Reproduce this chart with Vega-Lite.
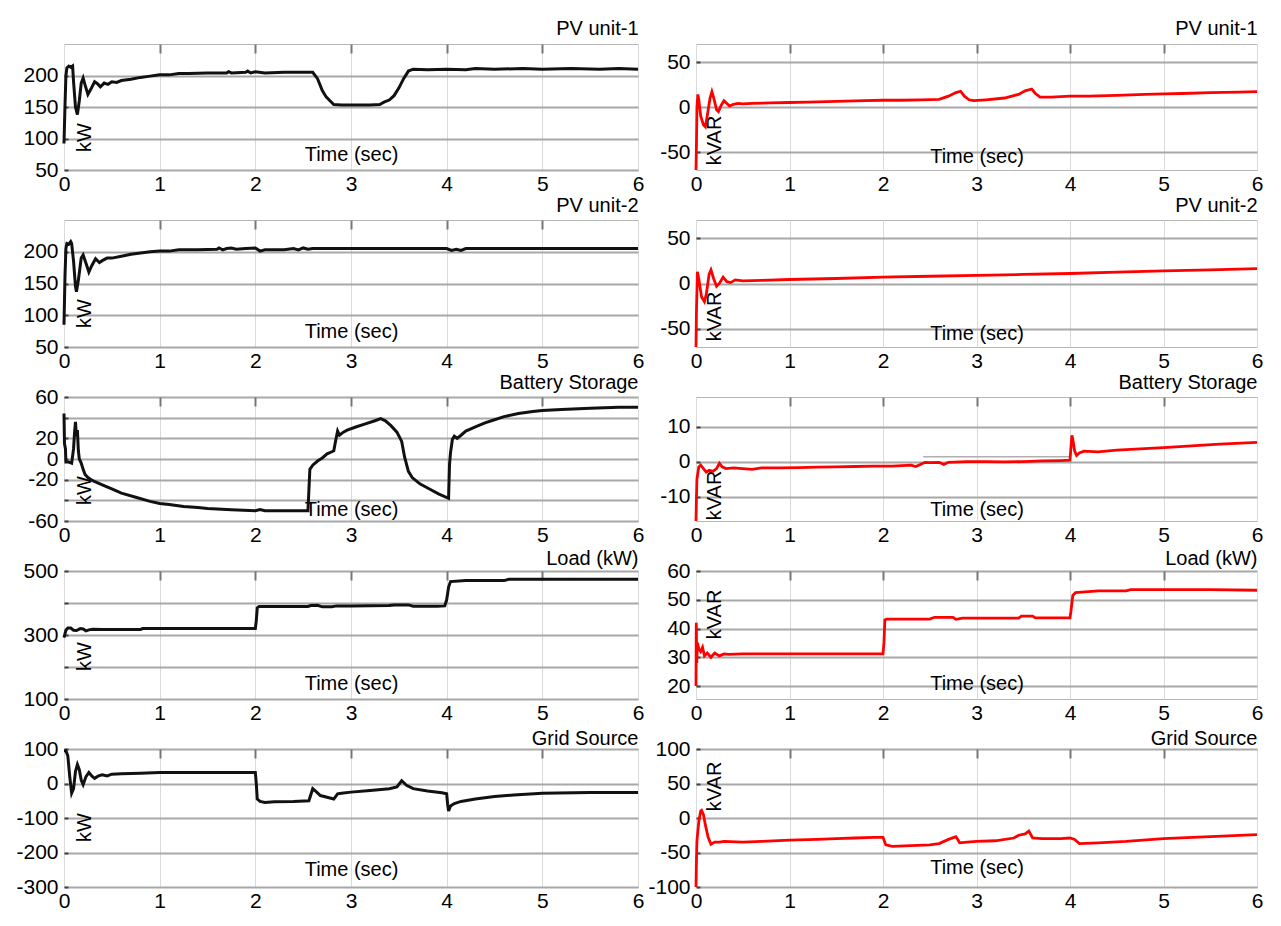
{
"$schema": "https://vega.github.io/schema/vega-lite/v6.json",
"background": "white",
"padding": {"left": 15, "top": 17, "right": 5, "bottom": 5},
"bounds": "flush",
"columns": 2,
"spacing": {"row": 50, "column": 58},
"datasets": {
"l1": [{"t":0,"v":92},{"t":0.01,"v":150},{"t":0.02,"v":200},{"t":0.03,"v":212},{"t":0.05,"v":215},{"t":0.07,"v":213},{"t":0.09,"v":215},{"t":0.1,"v":190},{"t":0.12,"v":150},{"t":0.14,"v":138},{"t":0.16,"v":160},{"t":0.18,"v":188},{"t":0.2,"v":196},{"t":0.22,"v":185},{"t":0.25,"v":170},{"t":0.28,"v":178},{"t":0.32,"v":190},{"t":0.35,"v":187},{"t":0.38,"v":182},{"t":0.42,"v":188},{"t":0.46,"v":186},{"t":0.5,"v":190},{"t":0.55,"v":189},{"t":0.6,"v":192},{"t":0.7,"v":194},{"t":0.8,"v":197},{"t":0.9,"v":199},{"t":1.0,"v":201},{"t":1.1,"v":201},{"t":1.2,"v":203},{"t":1.3,"v":203},{"t":1.5,"v":204},{"t":1.7,"v":204},{"t":1.72,"v":206},{"t":1.75,"v":204},{"t":1.9,"v":205},{"t":1.92,"v":207},{"t":1.95,"v":204},{"t":2.0,"v":206},{"t":2.1,"v":204},{"t":2.3,"v":205},{"t":2.5,"v":205},{"t":2.6,"v":205},{"t":2.65,"v":195},{"t":2.7,"v":176},{"t":2.74,"v":166},{"t":2.78,"v":160},{"t":2.82,"v":154},{"t":2.9,"v":153},{"t":3.0,"v":153},{"t":3.1,"v":153},{"t":3.2,"v":153},{"t":3.3,"v":154},{"t":3.35,"v":158},{"t":3.4,"v":161},{"t":3.45,"v":168},{"t":3.5,"v":180},{"t":3.55,"v":195},{"t":3.6,"v":207},{"t":3.65,"v":210},{"t":3.8,"v":209},{"t":4.0,"v":210},{"t":4.2,"v":209},{"t":4.3,"v":211},{"t":4.5,"v":210},{"t":4.8,"v":211},{"t":5.0,"v":210},{"t":5.3,"v":211},{"t":5.6,"v":210},{"t":5.8,"v":211},{"t":6.0,"v":210}],
"l2": [{"t":0,"v":85},{"t":0.01,"v":160},{"t":0.02,"v":205},{"t":0.03,"v":213},{"t":0.05,"v":212},{"t":0.07,"v":216},{"t":0.08,"v":213},{"t":0.1,"v":185},{"t":0.12,"v":145},{"t":0.13,"v":137},{"t":0.15,"v":155},{"t":0.18,"v":190},{"t":0.2,"v":195},{"t":0.23,"v":182},{"t":0.26,"v":168},{"t":0.29,"v":178},{"t":0.33,"v":189},{"t":0.37,"v":183},{"t":0.4,"v":186},{"t":0.45,"v":190},{"t":0.5,"v":190},{"t":0.6,"v":193},{"t":0.7,"v":196},{"t":0.8,"v":198},{"t":0.9,"v":200},{"t":1.0,"v":201},{"t":1.1,"v":201},{"t":1.2,"v":203},{"t":1.4,"v":203},{"t":1.6,"v":204},{"t":1.62,"v":206},{"t":1.66,"v":203},{"t":1.7,"v":205},{"t":1.75,"v":206},{"t":1.8,"v":204},{"t":1.9,"v":205},{"t":2.0,"v":206},{"t":2.05,"v":201},{"t":2.1,"v":203},{"t":2.3,"v":203},{"t":2.4,"v":205},{"t":2.45,"v":203},{"t":2.5,"v":206},{"t":2.55,"v":204},{"t":2.6,"v":205},{"t":3.0,"v":205},{"t":3.5,"v":205},{"t":4.0,"v":205},{"t":4.05,"v":202},{"t":4.1,"v":204},{"t":4.15,"v":202},{"t":4.2,"v":205},{"t":4.5,"v":205},{"t":5.0,"v":205},{"t":5.5,"v":205},{"t":6.0,"v":205}],
"l3": [{"t":0,"v":44},{"t":0.005,"v":15},{"t":0.015,"v":10},{"t":0.02,"v":-3},{"t":0.05,"v":-3},{"t":0.08,"v":-4},{"t":0.1,"v":10},{"t":0.11,"v":25},{"t":0.12,"v":36},{"t":0.13,"v":22},{"t":0.14,"v":28},{"t":0.15,"v":8},{"t":0.16,"v":0},{"t":0.18,"v":-4},{"t":0.2,"v":-10},{"t":0.22,"v":-15},{"t":0.25,"v":-18},{"t":0.3,"v":-21},{"t":0.4,"v":-25},{"t":0.5,"v":-29},{"t":0.6,"v":-33},{"t":0.75,"v":-37},{"t":0.9,"v":-41},{"t":1.0,"v":-43},{"t":1.1,"v":-44},{"t":1.25,"v":-46},{"t":1.4,"v":-47},{"t":1.5,"v":-48},{"t":1.75,"v":-49},{"t":2.0,"v":-50},{"t":2.05,"v":-49},{"t":2.1,"v":-50},{"t":2.3,"v":-50},{"t":2.55,"v":-50},{"t":2.565,"v":-20},{"t":2.57,"v":-10},{"t":2.6,"v":-6},{"t":2.65,"v":-2},{"t":2.7,"v":1},{"t":2.75,"v":5},{"t":2.8,"v":7},{"t":2.82,"v":8},{"t":2.84,"v":18},{"t":2.86,"v":27},{"t":2.88,"v":23},{"t":2.92,"v":26},{"t":2.96,"v":28},{"t":3.05,"v":31},{"t":3.15,"v":34},{"t":3.25,"v":37},{"t":3.31,"v":39},{"t":3.36,"v":37},{"t":3.42,"v":32},{"t":3.48,"v":26},{"t":3.53,"v":17},{"t":3.56,"v":2},{"t":3.6,"v":-12},{"t":3.64,"v":-18},{"t":3.72,"v":-24},{"t":3.82,"v":-29},{"t":3.92,"v":-34},{"t":4.02,"v":-38},{"t":4.03,"v":-5},{"t":4.04,"v":6},{"t":4.06,"v":19},{"t":4.08,"v":22},{"t":4.11,"v":20},{"t":4.15,"v":23},{"t":4.2,"v":27},{"t":4.3,"v":31},{"t":4.4,"v":35},{"t":4.5,"v":38},{"t":4.6,"v":41},{"t":4.75,"v":44},{"t":4.9,"v":46},{"t":5.0,"v":47},{"t":5.2,"v":48},{"t":5.5,"v":49},{"t":5.8,"v":50},{"t":6.0,"v":50}],
"l4": [{"t":0,"v":292},{"t":0.02,"v":315},{"t":0.04,"v":322},{"t":0.07,"v":322},{"t":0.1,"v":315},{"t":0.13,"v":314},{"t":0.17,"v":320},{"t":0.2,"v":319},{"t":0.23,"v":313},{"t":0.26,"v":316},{"t":0.3,"v":318},{"t":0.4,"v":317},{"t":0.6,"v":317},{"t":0.8,"v":317},{"t":0.82,"v":320},{"t":1.0,"v":320},{"t":1.5,"v":320},{"t":2.0,"v":320},{"t":2.01,"v":345},{"t":2.02,"v":385},{"t":2.04,"v":389},{"t":2.3,"v":389},{"t":2.55,"v":389},{"t":2.58,"v":392},{"t":2.65,"v":393},{"t":2.7,"v":388},{"t":2.8,"v":388},{"t":2.85,"v":391},{"t":3.0,"v":391},{"t":3.4,"v":392},{"t":3.45,"v":394},{"t":3.6,"v":394},{"t":3.65,"v":390},{"t":3.9,"v":390},{"t":3.98,"v":391},{"t":4.0,"v":410},{"t":4.02,"v":450},{"t":4.04,"v":467},{"t":4.2,"v":470},{"t":4.6,"v":470},{"t":4.65,"v":474},{"t":5.0,"v":474},{"t":5.5,"v":474},{"t":6.0,"v":474}],
"l5": [{"t":0,"v":95},{"t":0.02,"v":95},{"t":0.04,"v":80},{"t":0.06,"v":20},{"t":0.08,"v":-28},{"t":0.1,"v":-15},{"t":0.12,"v":35},{"t":0.14,"v":55},{"t":0.16,"v":40},{"t":0.18,"v":10},{"t":0.2,"v":-3},{"t":0.23,"v":20},{"t":0.26,"v":32},{"t":0.29,"v":22},{"t":0.32,"v":15},{"t":0.36,"v":22},{"t":0.4,"v":25},{"t":0.45,"v":22},{"t":0.5,"v":27},{"t":0.6,"v":28},{"t":0.8,"v":30},{"t":1.0,"v":32},{"t":1.5,"v":32},{"t":2.0,"v":32},{"t":2.01,"v":0},{"t":2.02,"v":-45},{"t":2.05,"v":-52},{"t":2.1,"v":-55},{"t":2.2,"v":-53},{"t":2.4,"v":-52},{"t":2.56,"v":-50},{"t":2.6,"v":-15},{"t":2.63,"v":-22},{"t":2.68,"v":-35},{"t":2.75,"v":-40},{"t":2.82,"v":-45},{"t":2.86,"v":-30},{"t":2.9,"v":-28},{"t":3.0,"v":-25},{"t":3.2,"v":-20},{"t":3.4,"v":-15},{"t":3.48,"v":-10},{"t":3.53,"v":8},{"t":3.58,"v":-5},{"t":3.65,"v":-15},{"t":3.8,"v":-22},{"t":3.95,"v":-27},{"t":4.0,"v":-30},{"t":4.01,"v":-60},{"t":4.02,"v":-80},{"t":4.04,"v":-65},{"t":4.08,"v":-58},{"t":4.15,"v":-52},{"t":4.3,"v":-45},{"t":4.5,"v":-38},{"t":4.7,"v":-33},{"t":5.0,"v":-28},{"t":5.5,"v":-26},{"t":6.0,"v":-26}],
"r1": [{"t":0,"v":-70},{"t":0.005,"v":-40},{"t":0.01,"v":0},{"t":0.02,"v":14},{"t":0.03,"v":8},{"t":0.05,"v":-10},{"t":0.08,"v":-20},{"t":0.1,"v":-22},{"t":0.12,"v":-10},{"t":0.15,"v":10},{"t":0.17,"v":17},{"t":0.19,"v":10},{"t":0.22,"v":-3},{"t":0.24,"v":-5},{"t":0.27,"v":2},{"t":0.3,"v":7},{"t":0.33,"v":4},{"t":0.36,"v":1},{"t":0.4,"v":3},{"t":0.45,"v":4},{"t":0.5,"v":3.5},{"t":0.6,"v":4},{"t":0.8,"v":4.5},{"t":1.0,"v":5},{"t":1.2,"v":5.5},{"t":1.4,"v":6},{"t":1.6,"v":6.5},{"t":1.8,"v":7},{"t":2.0,"v":7.5},{"t":2.2,"v":7.5},{"t":2.4,"v":8},{"t":2.6,"v":8.5},{"t":2.7,"v":12},{"t":2.78,"v":16},{"t":2.83,"v":17.5},{"t":2.87,"v":12},{"t":2.92,"v":8},{"t":2.97,"v":7},{"t":3.1,"v":8},{"t":3.3,"v":10},{"t":3.45,"v":14},{"t":3.52,"v":18},{"t":3.59,"v":20},{"t":3.63,"v":15},{"t":3.68,"v":11},{"t":3.8,"v":11},{"t":4.0,"v":12},{"t":4.2,"v":12},{"t":4.5,"v":13},{"t":4.8,"v":14},{"t":5.0,"v":14.5},{"t":5.2,"v":15},{"t":5.5,"v":16},{"t":5.8,"v":16.5},{"t":6.0,"v":17}],
"r2": [{"t":0,"v":-70},{"t":0.005,"v":-30},{"t":0.015,"v":13},{"t":0.03,"v":5},{"t":0.06,"v":-15},{"t":0.09,"v":-20},{"t":0.11,"v":-12},{"t":0.14,"v":10},{"t":0.16,"v":15},{"t":0.19,"v":5},{"t":0.22,"v":-3},{"t":0.25,"v":0},{"t":0.29,"v":7},{"t":0.33,"v":2},{"t":0.37,"v":1},{"t":0.42,"v":4},{"t":0.5,"v":3},{"t":0.7,"v":3.5},{"t":1.0,"v":4.4},{"t":1.5,"v":5.5},{"t":2.0,"v":7},{"t":2.5,"v":8},{"t":3.0,"v":9},{"t":3.5,"v":10},{"t":4.0,"v":11},{"t":4.5,"v":12.5},{"t":5.0,"v":14},{"t":5.5,"v":15},{"t":6.0,"v":16.4}],
"r3": [{"t":0,"v":-17},{"t":0.005,"v":-10},{"t":0.01,"v":-5},{"t":0.03,"v":-1.5},{"t":0.05,"v":-1},{"t":0.08,"v":-2},{"t":0.11,"v":-3},{"t":0.14,"v":-2.5},{"t":0.18,"v":-2.8},{"t":0.22,"v":-2},{"t":0.25,"v":-0.5},{"t":0.28,"v":-1.5},{"t":0.32,"v":-2},{"t":0.4,"v":-1.8},{"t":0.5,"v":-2},{"t":0.6,"v":-2.2},{"t":0.7,"v":-1.8},{"t":0.9,"v":-1.8},{"t":1.1,"v":-1.7},{"t":1.3,"v":-1.6},{"t":1.5,"v":-1.5},{"t":1.7,"v":-1.4},{"t":1.9,"v":-1.3},{"t":2.1,"v":-1.3},{"t":2.3,"v":-1},{"t":2.35,"v":-1.4},{"t":2.4,"v":-0.8},{"t":2.45,"v":-0.2},{"t":2.5,"v":-0.3},{"t":2.6,"v":-0.2},{"t":2.65,"v":-0.8},{"t":2.7,"v":-0.2},{"t":2.9,"v":0},{"t":3.1,"v":0},{"t":3.3,"v":-0.1},{"t":3.5,"v":0},{"t":3.7,"v":0.2},{"t":3.9,"v":0.3},{"t":4.0,"v":0.4},{"t":4.01,"v":4},{"t":4.02,"v":7.5},{"t":4.03,"v":6.5},{"t":4.05,"v":3},{"t":4.07,"v":1.8},{"t":4.1,"v":2.5},{"t":4.15,"v":3},{"t":4.3,"v":2.8},{"t":4.5,"v":3.3},{"t":4.8,"v":3.7},{"t":5.0,"v":4},{"t":5.3,"v":4.5},{"t":5.6,"v":5},{"t":6.0,"v":5.5}],
"r3g": [{"t":2.43,"v":1.4},{"t":4.0,"v":1.4}],
"r4": [{"t":0,"v":20},{"t":0.003,"v":42},{"t":0.008,"v":28},{"t":0.015,"v":35},{"t":0.03,"v":33},{"t":0.05,"v":32},{"t":0.07,"v":33.5},{"t":0.09,"v":30.5},{"t":0.12,"v":31.5},{"t":0.16,"v":30},{"t":0.2,"v":31.5},{"t":0.25,"v":30.5},{"t":0.3,"v":31.2},{"t":0.35,"v":31},{"t":0.5,"v":31.2},{"t":1.0,"v":31.2},{"t":1.5,"v":31.2},{"t":2.0,"v":31.2},{"t":2.01,"v":35},{"t":2.02,"v":43},{"t":2.04,"v":43.3},{"t":2.5,"v":43.3},{"t":2.55,"v":43.9},{"t":2.75,"v":43.9},{"t":2.78,"v":43.2},{"t":2.85,"v":43.6},{"t":3.45,"v":43.6},{"t":3.48,"v":44.3},{"t":3.6,"v":44.3},{"t":3.63,"v":43.7},{"t":4.0,"v":43.7},{"t":4.01,"v":46},{"t":4.03,"v":51.5},{"t":4.06,"v":52.5},{"t":4.3,"v":53.1},{"t":4.6,"v":53.1},{"t":4.65,"v":53.5},{"t":5.0,"v":53.5},{"t":5.5,"v":53.5},{"t":6.0,"v":53.3}],
"r5": [{"t":0,"v":-100},{"t":0.005,"v":-60},{"t":0.01,"v":-33},{"t":0.03,"v":-5},{"t":0.05,"v":10},{"t":0.06,"v":11},{"t":0.08,"v":5},{"t":0.1,"v":-10},{"t":0.13,"v":-28},{"t":0.16,"v":-38},{"t":0.2,"v":-35},{"t":0.25,"v":-35},{"t":0.3,"v":-34},{"t":0.5,"v":-35},{"t":0.7,"v":-34},{"t":1.0,"v":-32},{"t":1.3,"v":-31},{"t":1.5,"v":-30},{"t":1.7,"v":-29},{"t":1.9,"v":-28},{"t":2.0,"v":-28},{"t":2.03,"v":-39},{"t":2.1,"v":-41},{"t":2.3,"v":-40},{"t":2.5,"v":-39},{"t":2.6,"v":-37},{"t":2.7,"v":-31},{"t":2.78,"v":-27},{"t":2.82,"v":-36},{"t":2.9,"v":-35},{"t":3.0,"v":-34},{"t":3.2,"v":-33},{"t":3.4,"v":-29},{"t":3.45,"v":-25},{"t":3.52,"v":-23},{"t":3.56,"v":-19},{"t":3.6,"v":-29},{"t":3.7,"v":-30},{"t":3.9,"v":-30},{"t":4.0,"v":-29},{"t":4.05,"v":-31},{"t":4.1,"v":-37},{"t":4.3,"v":-36},{"t":4.6,"v":-34},{"t":5.0,"v":-30},{"t":5.5,"v":-27},{"t":6.0,"v":-24}]
},
"concat": [
 {"width": 574, "height": 126, "data": {"name": "l1"},
  "layer": [
   {"mark": {"type": "line", "color": "#111", "strokeWidth": 3},
    "encoding": {
     "x": {"field": "t", "type": "quantitative", "scale": {"domain": [0, 6], "nice": false}, "axis": {"values": [0,1,2,3,4,5,6], "title": "Time (sec)", "titleY": -16}},
     "y": {"field": "v", "type": "quantitative", "scale": {"domain": [50, 250], "nice": false, "zero": false}, "axis": {"values": [50,100,150,200], "tickCount": 20, "labelExpr": "datum.value + ''", "title": "kW", "titleX": 20, "titleY": 93}}}},
   {"mark": {"type": "line", "opacity": 0},
    "encoding": {
     "x": {"field": "t", "type": "quantitative", "axis": {"orient": "top", "values": [1,2,3,4,5], "labels": false, "grid": false, "ticks": true, "tickSize": -9, "tickColor": "#777", "tickWidth": 2, "title": "PV unit-1", "titleX": 574, "titleY": -16, "titleAlign": "right"}},
     "y": {"field": "v", "type": "quantitative"}}}
  ],
  "resolve": {"axis": {"x": "independent"}}},
 {"width": 561, "height": 126, "data": {"name": "r1"},
  "layer": [
   {"mark": {"type": "line", "color": "#ff0000", "strokeWidth": 2.8},
    "encoding": {
     "x": {"field": "t", "type": "quantitative", "scale": {"domain": [0, 6], "nice": false}, "axis": {"values": [0,1,2,3,4,5,6], "title": "Time (sec)", "titleY": -14}},
     "y": {"field": "v", "type": "quantitative", "scale": {"domain": [-70, 70], "nice": false, "zero": false}, "axis": {"values": [-50,0,50], "tickCount": 20, "labelExpr": "datum.value + ''", "title": "kVAR", "titleX": 18, "titleY": 96}}}},
   {"mark": {"type": "line", "opacity": 0},
    "encoding": {
     "x": {"field": "t", "type": "quantitative", "axis": {"orient": "top", "values": [1,2,3,4,5], "labels": false, "grid": false, "ticks": true, "tickSize": -9, "tickColor": "#777", "tickWidth": 2, "title": "PV unit-1", "titleX": 561, "titleY": -16, "titleAlign": "right"}},
     "y": {"field": "v", "type": "quantitative"}}}
  ],
  "resolve": {"axis": {"x": "independent"}}},
 {"width": 574, "height": 127, "data": {"name": "l2"},
  "layer": [
   {"mark": {"type": "line", "color": "#111", "strokeWidth": 3},
    "encoding": {
     "x": {"field": "t", "type": "quantitative", "scale": {"domain": [0, 6], "nice": false}, "axis": {"values": [0,1,2,3,4,5,6], "title": "Time (sec)", "titleY": -16}},
     "y": {"field": "v", "type": "quantitative", "scale": {"domain": [50, 250], "nice": false, "zero": false}, "axis": {"values": [50,100,150,200], "tickCount": 20, "labelExpr": "datum.value + ''", "title": "kW", "titleX": 20, "titleY": 93}}}},
   {"mark": {"type": "line", "opacity": 0},
    "encoding": {
     "x": {"field": "t", "type": "quantitative", "axis": {"orient": "top", "values": [1,2,3,4,5], "labels": false, "grid": false, "ticks": true, "tickSize": -9, "tickColor": "#777", "tickWidth": 2, "title": "PV unit-2", "titleX": 574, "titleY": -15, "titleAlign": "right"}},
     "y": {"field": "v", "type": "quantitative"}}}
  ],
  "resolve": {"axis": {"x": "independent"}}},
 {"width": 561, "height": 127, "data": {"name": "r2"},
  "layer": [
   {"mark": {"type": "line", "color": "#ff0000", "strokeWidth": 2.8},
    "encoding": {
     "x": {"field": "t", "type": "quantitative", "scale": {"domain": [0, 6], "nice": false}, "axis": {"values": [0,1,2,3,4,5,6], "title": "Time (sec)", "titleY": -14}},
     "y": {"field": "v", "type": "quantitative", "scale": {"domain": [-70, 70], "nice": false, "zero": false}, "axis": {"values": [-50,0,50], "tickCount": 20, "labelExpr": "datum.value + ''", "title": "kVAR", "titleX": 18, "titleY": 96}}}},
   {"mark": {"type": "line", "opacity": 0},
    "encoding": {
     "x": {"field": "t", "type": "quantitative", "axis": {"orient": "top", "values": [1,2,3,4,5], "labels": false, "grid": false, "ticks": false, "title": "PV unit-2", "titleX": 561, "titleY": -15, "titleAlign": "right"}},
     "y": {"field": "v", "type": "quantitative"}}}
  ],
  "resolve": {"axis": {"x": "independent"}}},
 {"width": 574, "height": 124, "data": {"name": "l3"},
  "layer": [
   {"mark": {"type": "line", "color": "#111", "strokeWidth": 3},
    "encoding": {
     "x": {"field": "t", "type": "quantitative", "scale": {"domain": [0, 6], "nice": false}, "axis": {"values": [0,1,2,3,4,5,6], "title": "Time (sec)", "titleY": -12}},
     "y": {"field": "v", "type": "quantitative", "scale": {"domain": [-60, 60], "nice": false, "zero": false}, "axis": {"values": [-60,-40,-20,0,20,40,60], "tickCount": 20, "labelExpr": "datum.value == 40 || datum.value == -40 ? '' : datum.value + ''", "title": "kW", "titleX": 20, "titleY": 93}}}},
   {"mark": {"type": "line", "opacity": 0},
    "encoding": {
     "x": {"field": "t", "type": "quantitative", "axis": {"orient": "top", "values": [1,2,3,4,5], "labels": false, "grid": false, "ticks": true, "tickSize": -9, "tickColor": "#777", "tickWidth": 2, "title": "Battery Storage", "titleX": 574, "titleY": -15, "titleAlign": "right"}},
     "y": {"field": "v", "type": "quantitative"}}}
  ],
  "resolve": {"axis": {"x": "independent"}}},
 {"width": 561, "height": 124,
  "layer": [
   {"data": {"name": "r3g"}, "mark": {"type": "line", "color": "#b0b0b0", "strokeWidth": 1.5},
    "encoding": {
     "x": {"field": "t", "type": "quantitative", "scale": {"domain": [0, 6], "nice": false}, "axis": {"values": [0,1,2,3,4,5,6], "title": "Time (sec)", "titleY": -12}},
     "y": {"field": "v", "type": "quantitative", "scale": {"domain": [-17, 18.5], "nice": false, "zero": false}, "axis": {"values": [-10,0,10], "tickCount": 20, "labelExpr": "datum.value + ''", "title": "kVAR", "titleX": 18, "titleY": 98}}}},
   {"data": {"name": "r3"}, "mark": {"type": "line", "color": "#ff0000", "strokeWidth": 2.8},
    "encoding": {
     "x": {"field": "t", "type": "quantitative", "axis": null},
     "y": {"field": "v", "type": "quantitative"}}},
   {"data": {"name": "r3"}, "mark": {"type": "line", "opacity": 0},
    "encoding": {
     "x": {"field": "t", "type": "quantitative", "axis": {"orient": "top", "values": [1,2,3,4,5], "labels": false, "grid": false, "ticks": true, "tickSize": -9, "tickColor": "#777", "tickWidth": 2, "title": "Battery Storage", "titleX": 561, "titleY": -15, "titleAlign": "right"}},
     "y": {"field": "v", "type": "quantitative"}}}
  ],
  "resolve": {"axis": {"x": "independent"}}},
 {"width": 574, "height": 128, "data": {"name": "l4"},
  "layer": [
   {"mark": {"type": "line", "color": "#111", "strokeWidth": 3},
    "encoding": {
     "x": {"field": "t", "type": "quantitative", "scale": {"domain": [0, 6], "nice": false}, "axis": {"values": [0,1,2,3,4,5,6], "title": "Time (sec)", "titleY": -16}},
     "y": {"field": "v", "type": "quantitative", "scale": {"domain": [100, 500], "nice": false, "zero": false}, "axis": {"values": [100,200,300,400,500], "tickCount": 20, "labelExpr": "datum.value == 200 || datum.value == 400 ? '' : datum.value + ''", "title": "kW", "titleX": 20, "titleY": 85}}}},
   {"mark": {"type": "line", "opacity": 0},
    "encoding": {
     "x": {"field": "t", "type": "quantitative", "axis": {"orient": "top", "values": [1,2,3,4,5], "labels": false, "grid": false, "ticks": true, "tickSize": -9, "tickColor": "#777", "tickWidth": 2, "title": "Load (kW)", "titleX": 574, "titleY": -13, "titleAlign": "right"}},
     "y": {"field": "v", "type": "quantitative"}}}
  ],
  "resolve": {"axis": {"x": "independent"}}},
 {"width": 561, "height": 128, "data": {"name": "r4"},
  "layer": [
   {"mark": {"type": "line", "color": "#ff0000", "strokeWidth": 2.8},
    "encoding": {
     "x": {"field": "t", "type": "quantitative", "scale": {"domain": [0, 6], "nice": false}, "axis": {"values": [0,1,2,3,4,5,6], "title": "Time (sec)", "titleY": -16}},
     "y": {"field": "v", "type": "quantitative", "scale": {"domain": [15.5, 60], "nice": false, "zero": false}, "axis": {"values": [20,30,40,50,60], "tickCount": 20, "labelExpr": "datum.value + ''", "title": "kVAR", "titleX": 18, "titleY": 43}}}},
   {"mark": {"type": "line", "opacity": 0},
    "encoding": {
     "x": {"field": "t", "type": "quantitative", "axis": {"orient": "top", "values": [1,2,3,4,5], "labels": false, "grid": false, "ticks": true, "tickSize": -9, "tickColor": "#777", "tickWidth": 2, "title": "Load (kW)", "titleX": 561, "titleY": -13, "titleAlign": "right"}},
     "y": {"field": "v", "type": "quantitative"}}}
  ],
  "resolve": {"axis": {"x": "independent"}}},
 {"width": 574, "height": 138, "data": {"name": "l5"},
  "layer": [
   {"mark": {"type": "line", "color": "#111", "strokeWidth": 3},
    "encoding": {
     "x": {"field": "t", "type": "quantitative", "scale": {"domain": [0, 6], "nice": false}, "axis": {"values": [0,1,2,3,4,5,6], "title": "Time (sec)", "titleY": -18}},
     "y": {"field": "v", "type": "quantitative", "scale": {"domain": [-300, 100], "nice": false, "zero": false}, "axis": {"values": [-300,-200,-100,0,100], "tickCount": 20, "labelExpr": "datum.value + ''", "title": "kW", "titleX": 20, "titleY": 78}}}},
   {"mark": {"type": "line", "opacity": 0},
    "encoding": {
     "x": {"field": "t", "type": "quantitative", "axis": {"orient": "top", "values": [1,2,3,4,5], "labels": false, "grid": false, "ticks": true, "tickSize": -9, "tickColor": "#777", "tickWidth": 2, "title": "Grid Source", "titleX": 574, "titleY": -11, "titleAlign": "right"}},
     "y": {"field": "v", "type": "quantitative"}}}
  ],
  "resolve": {"axis": {"x": "independent"}}},
 {"width": 561, "height": 138, "data": {"name": "r5"},
  "layer": [
   {"mark": {"type": "line", "color": "#ff0000", "strokeWidth": 2.8},
    "encoding": {
     "x": {"field": "t", "type": "quantitative", "scale": {"domain": [0, 6], "nice": false}, "axis": {"values": [0,1,2,3,4,5,6], "title": "Time (sec)", "titleY": -20}},
     "y": {"field": "v", "type": "quantitative", "scale": {"domain": [-100, 100], "nice": false, "zero": false}, "axis": {"values": [-100,-50,0,50,100], "tickCount": 20, "labelExpr": "datum.value + ''", "title": "kVAR", "titleX": 18, "titleY": 37}}}},
   {"mark": {"type": "line", "opacity": 0},
    "encoding": {
     "x": {"field": "t", "type": "quantitative", "axis": {"orient": "top", "values": [1,2,3,4,5], "labels": false, "grid": false, "ticks": true, "tickSize": -9, "tickColor": "#777", "tickWidth": 2, "title": "Grid Source", "titleX": 561, "titleY": -11, "titleAlign": "right"}},
     "y": {"field": "v", "type": "quantitative"}}}
  ],
  "resolve": {"axis": {"x": "independent"}}}
],
"config": {
 "font": "Liberation Sans",
 "view": {"stroke": "#b5b5b5", "strokeWidth": 1},
 "axis": {"labelFont": "Liberation Sans", "labelFontSize": 21, "labelColor": "#000", "titleFont": "Liberation Sans", "titleFontSize": 20, "titleFontWeight": "normal", "titleColor": "#000", "domain": false, "labelOverlap": false, "labelFlush": false, "titleBaseline": "middle", "titleAlign": "center"},
 "axisX": {"gridColor": "#dadada", "gridWidth": 1, "ticks": false, "labelPadding": 3},
 "axisY": {"gridColor": "#a8a8a8", "gridWidth": 2, "ticks": true, "tickSize": -4, "tickColor": "#444", "tickWidth": 2, "labelPadding": 10}
}
}
